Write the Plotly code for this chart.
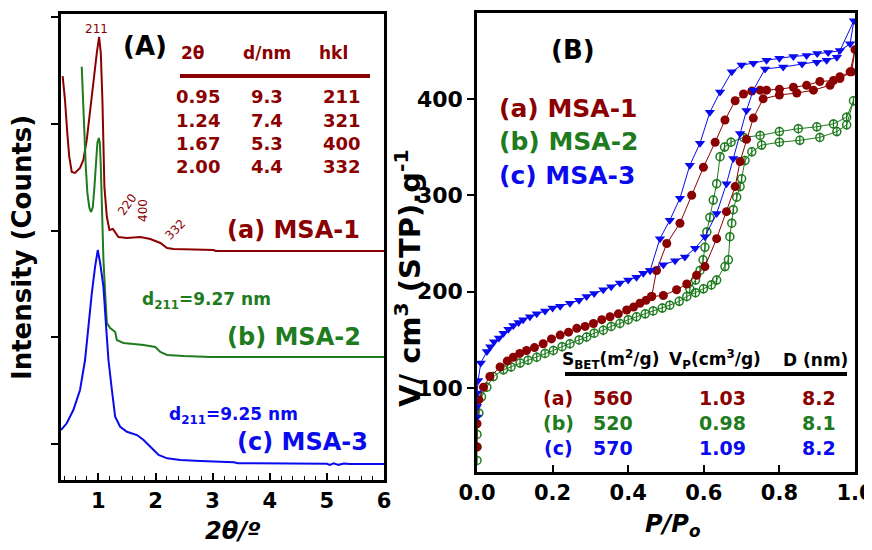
import plotly.graph_objects as go

# page body has an 8px margin: draw the figure inside the remaining area (no scrolling)
OFF = 8
W, H = 872 - OFF, 550 - 2 * OFF
RED = "#8B0000"
GREEN = "#1E7B1E"
BLUE = "#0A0AEE"
FONT = "DejaVu Sans"

# ---------------- Panel A : low-angle XRD (2theta in degrees, counts a.u.) ----------------
tt_msa1 = [0.374, 0.415, 0.455, 0.49, 0.533, 0.59, 0.678, 0.736, 0.796, 0.854, 0.912, 0.972, 1.012,
           1.042, 1.07, 1.088, 1.105, 1.148, 1.193, 1.253, 1.299, 1.351, 1.499, 1.733, 1.909, 2.084,
           2.202, 2.318, 3.016, 3.051, 6.0]
cnt_msa1 = [4447, 4222, 3913, 3689, 3548, 3539, 3586, 3660, 3848, 4129, 4410, 4663, 4813,
            4663, 4222, 3754, 3407, 3126, 3005, 3014, 2977, 2939, 2930, 2939, 2920, 2883,
            2836, 2827, 2817, 2808, 2808]

tt_msa2 = [0.708, 0.726, 0.749, 0.779, 0.807, 0.842, 0.872, 0.902, 0.93, 0.96, 0.982, 1.007, 1.025,
           1.042, 1.06, 1.088, 1.118, 1.148, 1.206, 1.294, 1.323, 1.439, 1.791, 1.996, 2.084, 2.202,
           2.494, 2.963, 6.0]
cnt_msa2 = [4534, 4288, 3913, 3595, 3351, 3211, 3173, 3220, 3407, 3660, 3820, 3866, 3820,
            3595, 3220, 2724, 2415, 2133, 2087, 2049, 1974, 1946, 1927, 1909, 1862, 1834,
            1824, 1815, 1815]

tt_msa3 = [0.344, 0.445, 0.561, 0.678, 0.766, 0.824, 0.884, 0.942, 0.989, 1.03, 1.088, 1.135, 1.176,
           1.236, 1.293, 1.381, 1.499, 1.675, 1.791, 1.909, 2.054, 2.202, 2.436, 2.788, 3.373, 3.44,
           5.0, 5.05, 5.12, 5.2, 5.3, 5.4, 6.0]
cnt_msa3 = [1131, 1194, 1318, 1506, 1787, 2099, 2412, 2661, 2817, 2696, 2474, 2099, 1787,
            1506, 1256, 1162, 1115, 1084, 1037, 975, 897, 866, 850, 841, 829, 820,
            815, 805, 820, 805, 818, 812, 812]

xrd_ticks = [1, 2, 3, 4, 5, 6]

tableA_header = ["2θ", "d/nm", "hkl"]
tableA_rows = [["0.95", "9.3", "211"],
               ["1.24", "7.4", "321"],
               ["1.67", "5.3", "400"],
               ["2.00", "4.4", "332"]]

# ---------------- Panel B : N2 isotherms (P/Po, V cm3 STP/g) ----------------
p_ads_1 = [0.0, 0.0, 0.005, 0.017, 0.034, 0.061, 0.08, 0.096, 0.113, 0.131, 0.152, 0.175, 0.197, 0.22,
           0.242, 0.264, 0.286, 0.308, 0.33, 0.352, 0.374, 0.396, 0.414, 0.431, 0.447, 0.462, 0.493,
           0.528, 0.555, 0.581, 0.603, 0.634, 0.66, 0.683, 0.696, 0.713, 0.731, 0.757, 0.80, 0.846,
           0.89, 0.934, 0.96, 0.991, 1.0]
v_ads_1 = [39, 63, 88, 101, 112, 122, 128, 132, 136, 139, 142, 146, 151, 155,
           158, 162, 164, 167, 171, 174, 177, 181, 184, 188, 191, 195, 196,
           202, 208, 217, 226, 255, 283, 309, 335, 358, 380, 400, 404, 406,
           409, 414, 421, 428, 451]
p_des_1 = [0.987, 0.96, 0.943, 0.907, 0.872, 0.837, 0.80, 0.766, 0.749, 0.727, 0.705, 0.683, 0.656,
           0.63, 0.599, 0.568, 0.537, 0.502, 0.475, 0.462]
v_des_1 = [428, 423, 419, 418, 414, 412, 410, 409, 409, 408, 405, 398, 378,
           355, 329, 300, 271, 250, 222, 195]

p_ads_2 = [0.0, 0.0, 0.0, 0.005, 0.012, 0.026, 0.043, 0.07, 0.09, 0.114, 0.135, 0.158, 0.18, 0.202,
           0.225, 0.246, 0.27, 0.29, 0.31, 0.334, 0.355, 0.378, 0.40, 0.422, 0.445, 0.466, 0.49, 0.51,
           0.535, 0.555, 0.578, 0.599, 0.62, 0.634, 0.656, 0.665, 0.669, 0.674, 0.678, 0.687, 0.696,
           0.70, 0.709, 0.727, 0.753, 0.80, 0.854, 0.907, 0.952, 0.978, 0.996]
v_ads_2 = [25, 39, 52, 74, 91, 101, 112, 119, 122, 126, 129, 132, 136, 139,
           143, 146, 150, 153, 157, 160, 164, 167, 171, 174, 177, 180, 183, 186,
           190, 195, 199, 203, 207, 212, 226, 233, 257, 271, 285, 298, 309,
           317, 336, 345, 352, 355, 357, 360, 366, 373, 398]
p_des_2 = [0.978, 0.943, 0.899, 0.85, 0.80, 0.749, 0.705, 0.672, 0.655, 0.643, 0.634, 0.625, 0.616,
           0.608, 0.603, 0.598, 0.59, 0.578, 0.563]
v_des_2 = [381, 374, 371, 369, 366, 362, 360, 355, 350, 340, 312, 295, 277,
           262, 246, 233, 222, 212, 203]

p_ads_3 = [0.0, 0.0, 0.0, 0.003, 0.01, 0.026, 0.035, 0.045, 0.058, 0.07, 0.083, 0.096, 0.11, 0.122,
           0.14, 0.158, 0.18, 0.2, 0.22, 0.246, 0.27, 0.29, 0.31, 0.334, 0.355, 0.378, 0.40, 0.422,
           0.44, 0.458, 0.493, 0.524, 0.55, 0.577, 0.603, 0.634, 0.66, 0.678, 0.696, 0.713, 0.731,
           0.762, 0.81, 0.86, 0.899, 0.925, 0.952, 0.997]
v_ads_3 = [70, 81, 95, 108, 126, 138, 143, 148, 152, 157, 161, 165, 168, 171,
           174, 177, 180, 183, 185, 188, 191, 195, 198, 202, 205, 209, 212, 215,
           219, 222, 228, 232, 236, 245, 257, 281, 312, 338, 364, 388, 409,
           431, 433, 436, 438, 440, 443, 481]
p_des_3 = [0.987, 0.96, 0.929, 0.9, 0.872, 0.837, 0.80, 0.766, 0.731, 0.70, 0.674, 0.643, 0.616,
           0.59, 0.563, 0.537, 0.51, 0.484, 0.458]
v_des_3 = [457, 450, 448, 447, 445, 444, 442, 440, 437, 435, 428, 407, 386,
           354, 331, 297, 274, 255, 222]

iso_labels = ["(a)", "(b)", "(c)"]
s_bet = ["560", "520", "570"]
v_pore = ["1.03", "0.98", "1.09"]
d_pore = ["8.2", "8.1", "8.2"]
tableB_header = ["S<sub>BET</sub>(m<sup>2</sup>/g)", "V<sub>P</sub>(cm<sup>3</sup>/g)", "D (nm)"]


def fx(x):
    return (x - OFF) / W


def fy(y):
    return 1 - (y - OFF) / H


fig = go.Figure()

# XRD curves
fig.add_trace(go.Scatter(x=tt_msa1, y=cnt_msa1, mode="lines", line=dict(color=RED, width=2),
                         xaxis="x", yaxis="y"))
fig.add_trace(go.Scatter(x=tt_msa2, y=cnt_msa2, mode="lines", line=dict(color=GREEN, width=2),
                         xaxis="x", yaxis="y"))
fig.add_trace(go.Scatter(x=tt_msa3, y=cnt_msa3, mode="lines", line=dict(color=BLUE, width=2),
                         xaxis="x", yaxis="y"))

# Isotherms
p2 = p_ads_2 + p_des_2
v2 = v_ads_2 + v_des_2
fig.add_trace(go.Scatter(x=p2, y=v2, mode="lines+markers", line=dict(color=GREEN, width=1),
                         marker=dict(symbol="circle-open", size=8, color=GREEN, line=dict(width=1.5, color=GREEN)),
                         xaxis="x2", yaxis="y2"))
fig.add_trace(go.Scatter(x=p2, y=v2, mode="markers",
                         marker=dict(symbol="line-ns", size=7, color=GREEN, line=dict(width=1.3, color=GREEN)),
                         xaxis="x2", yaxis="y2"))
fig.add_trace(go.Scatter(x=p_ads_1 + p_des_1, y=v_ads_1 + v_des_1, mode="lines+markers",
                         line=dict(color=RED, width=1),
                         marker=dict(symbol="circle", size=9, color=RED),
                         xaxis="x2", yaxis="y2"))
fig.add_trace(go.Scatter(x=p_ads_3 + p_des_3, y=v_ads_3 + v_des_3, mode="lines+markers",
                         line=dict(color=BLUE, width=1),
                         marker=dict(symbol="triangle-down", size=9, color=BLUE),
                         xaxis="x2", yaxis="y2"))

tickfont = dict(family=FONT, size=21, color="black", weight="bold")
ytickfont = dict(family=FONT, size=22, color="black", weight="bold")

fig.update_layout(
    width=W, height=H, margin=dict(l=0, r=0, t=0, b=0, autoexpand=False),
    paper_bgcolor="white", plot_bgcolor="white", showlegend=False,
    xaxis=dict(domain=[fx(61), fx(384)], range=[0.345, 6.0], tickvals=xrd_ticks,
               ticks="inside", ticklen=7, tickwidth=1.5, tickcolor="black",
               minor=dict(dtick=0.2, ticks="inside", ticklen=4, tickwidth=1.2, tickcolor="black"),
               showline=True, mirror=True, linecolor="black", linewidth=2.5, automargin=False,
               ticklabeloverflow="allow",
               showgrid=False, zeroline=False, tickfont=tickfont, anchor="y"),
    yaxis=dict(domain=[fy(480), fy(14)], range=[663, 5028], tickvals=[1000, 2000, 3000, 4000, 5000],
               ticks="outside", ticklen=7, tickwidth=1.5, tickcolor="black", showticklabels=False,
               showline=True, mirror=True, linecolor="black", linewidth=2.5, automargin=False,
               showgrid=False, zeroline=False, anchor="x"),
    xaxis2=dict(domain=[fx(477), fx(855)], range=[0, 1.0], dtick=0.2, tickformat=".1f",
                ticks="inside", ticklen=7, tickwidth=1.5, tickcolor="black", automargin=False,
                ticklabeloverflow="allow",
                showline=True, mirror=True, linecolor="black", linewidth=2.5,
                showgrid=False, zeroline=False, tickfont=tickfont, anchor="y2"),
    yaxis2=dict(domain=[fy(472), fy(13)], range=[13, 489], tickvals=[100, 200, 300, 400],
                ticks="outside", ticklen=7, tickwidth=1.5, tickcolor="black", automargin=False,
                ticklabeloverflow="allow",
                showline=True, mirror=True, linecolor="black", linewidth=2.5,
                showgrid=False, zeroline=False, tickfont=ytickfont, anchor="x2"),
)

ann = []


def txt(x, y, s, size, color="black", xanchor="center", angle=0, bold=True, italic=False):
    t = s
    if italic:
        t = "<i>" + t + "</i>"
    if bold:
        t = "<b>" + t + "</b>"
    ann.append(dict(x=fx(x), y=fy(y), xref="paper", yref="paper", text=t, showarrow=False,
                    xanchor=xanchor, yanchor="middle", textangle=angle,
                    font=dict(family=FONT, size=size, color=color)))


# Panel A texts
txt(145, 46, "(A)", 26)
txt(96, 29, "211", 12, RED, bold=False)
txt(127, 205, "220", 12, RED, angle=-55, bold=False)
txt(143, 211, "400", 12, RED, angle=-90, bold=False)
txt(175, 230, "332", 12, RED, angle=-45, bold=False)
for xc, h in zip([193, 267, 333], tableA_header):
    txt(xc, 53, h, 17, RED)
for yr, row in zip([97, 121, 144, 166], tableA_rows):
    for xc, v in zip([198, 267, 342], row):
        txt(xc, yr, v, 18, RED)
txt(362, 230, "(a) MSA-1", 24, RED, xanchor="right")
txt(140, 300, "d<sub>211</sub>=9.27 nm", 17, GREEN, xanchor="left")
txt(363, 337, "(b) MSA-2", 24, GREEN, xanchor="right")
txt(167, 415, "d<sub>211</sub>=9.25 nm", 17, BLUE, xanchor="left")
txt(370, 442, "(c) MSA-3", 24, BLUE, xanchor="right")
txt(233, 531, "2θ/º", 24, italic=True)
txt(22, 248, "Intensity (Counts)", 26, angle=-90)

# Panel B texts
txt(573, 50, "(B)", 26)
for yl, lab, col in zip([108, 142, 175], ["(a) MSA-1", "(b) MSA-2", "(c) MSA-3"], [RED, GREEN, BLUE]):
    txt(497, yl, lab, 25, col, xanchor="left")
for xc, h in zip([610, 715, 815], tableB_header):
    txt(xc, 360, h, 17)
for yr, lab, s, vp, d, col in zip([398, 423, 448], iso_labels, s_bet, v_pore, d_pore, [RED, GREEN, BLUE]):
    txt(558, yr, lab, 19, col)
    txt(613, yr, s, 19, col)
    txt(722, yr, vp, 19, col)
    txt(819, yr, d, 19, col)
txt(672, 525, "P/P<sub>o</sub>", 24, italic=True)
txt(408, 278, "V/ cm<sup>3</sup> (STP).g<sup>-1</sup>", 29, angle=-90)

fig.update_layout(annotations=ann, shapes=[
    dict(type="line", xref="paper", yref="paper", x0=fx(180), x1=fx(370), y0=fy(76), y1=fy(76),
         line=dict(color=RED, width=4)),
    dict(type="line", xref="paper", yref="paper", x0=fx(565), x1=fx(847), y0=fy(374), y1=fy(374),
         line=dict(color="black", width=4)),
])

fig.write_html("out.html")
